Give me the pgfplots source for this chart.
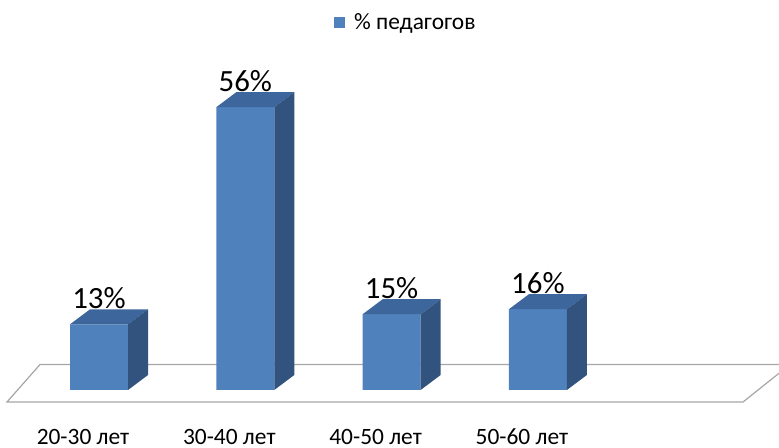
\documentclass[border=0pt]{standalone}
\usepackage{pgfplots}
\pgfplotsset{compat=1.18}
\usepackage{pgfplotstable}
\usepackage{fontspec}
\setmainfont{Carlito}
\definecolor{frontc}{HTML}{4F81BD}
\definecolor{topc}{HTML}{3D679C}
\definecolor{sidec}{HTML}{32537E}
\definecolor{floorc}{HTML}{A6A6A6}

\pgfdeclareplotmark{box3d}{%
  \pgfmathsetmacro\bh{\rawy*5.05}%
  \pgfsetfillcolor{topc}%
  \pgfpathmoveto{\pgfqpoint{-29bp}{0bp}}%
  \pgfpathlineto{\pgfqpoint{-9bp}{15bp}}%
  \pgfpathlineto{\pgfqpoint{49bp}{15bp}}%
  \pgfpathlineto{\pgfqpoint{29bp}{0bp}}%
  \pgfpathclose
  \pgfusepath{fill}%
  \pgfsetfillcolor{sidec}%
  \pgfpathmoveto{\pgfqpoint{29bp}{0bp}}%
  \pgfpathlineto{\pgfqpoint{49bp}{15bp}}%
  \pgfpathlineto{\pgfpoint{49bp}{15bp-\bh bp}}%
  \pgfpathlineto{\pgfpoint{29bp}{-\bh bp}}%
  \pgfpathclose
  \pgfusepath{fill}%
}

\pgfplotstableread{
x y
0 13
1 56
2 15
3 16
}\datatable

\begin{document}
\begin{tikzpicture}
\begin{axis}[
  at={(-3.41bp,32.75bp)}, anchor=south west,
  scale only axis, x=146.3bp, y=5.05bp,
  xmin=-0.7, xmax=4.7, ymin=-5, ymax=70,
  clip=false,
  axis line style={draw=none},
  major tick style={draw=none},
  ytick=\empty,
  xtick={0,1,2,3},
  xticklabels={20-30 лет,30-40 лет,40-50 лет,50-60 лет},
  xticklabel style={anchor=base, yshift=-29.5bp, xshift=-16bp, font=\fontsize{23.5}{28}\selectfont},
  legend style={at={(0.427,1.037)}, anchor=west, draw=none, fill=none,
    font=\fontsize{23.5}{28}\selectfont, inner sep=0pt},
  legend cell align=left,
  legend image code/.code={\fill[frontc] (0bp,-5.5bp) rectangle (11bp,5.5bp); \path (18bp,0bp);},
  /pgf/number format/assume math mode=true,
]
\addplot[forget plot, draw=floorc, line width=1.2bp, fill=white]
  coordinates {(-0.629,-2.38) (-0.403,5.05) (4.723,5.05) (4.402,-2.38)} -- cycle;
\addplot[forget plot, only marks, scatter, mark=box3d,
  visualization depends on={rawy \as \rawy},
  scatter/use mapped color={draw=none, fill=none}]
  table[x=x, y=y] {\datatable};
\addplot[ybar, bar width=58bp, bar shift=0bp, fill=frontc, draw=none,
  nodes near coords={\pgfmathprintnumber{\pgfplotspointmeta}\%},
  every node near coord/.append style={font=\fontsize{31}{36}\selectfont, inner sep=0pt, yshift=15bp, text=black}]
  table[x=x, y=y] {\datatable};
\addlegendentry{\% педагогов}
\end{axis}
\pgfresetboundingbox
\useasboundingbox (0,0) rectangle (779bp,448bp);
\end{tikzpicture}
\end{document}
